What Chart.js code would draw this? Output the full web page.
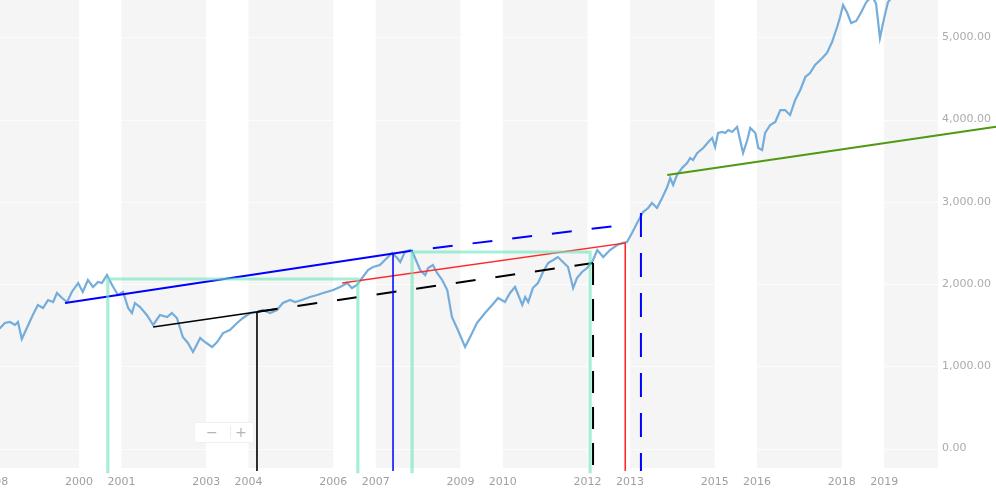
<!DOCTYPE html>
<html>
<head>
<meta charset="utf-8">
<script src="https://cdn.jsdelivr.net/npm/chart.js@4/dist/chart.umd.min.js"></script>
<style>
  html, body { margin: 0; padding: 0; background: #fff; overflow: hidden; }
  #wrap { position: absolute; left: -60px; top: 0; width: 1100px; height: 494px; }
  #zoomBox {
    position: absolute; left: 194px; top: 422px; width: 58px; height: 19px;
    background: #fff; border: 1px solid #f1f1f1; color: #b5b5b5;
    font: 14px "DejaVu Sans", sans-serif; line-height: 19px;
  }
  #zoomBox span { position: absolute; top: 0; }
  #zoomBox i { position: absolute; left: 35px; top: 3px; width: 1px; height: 13px; background: #eee; }
</style>
</head>
<body>
<div id="wrap"><canvas id="myChart" width="1100" height="494"></canvas></div>
<div id="zoomBox"><span style="left:11px">−</span><i></i><span style="left:40px">+</span></div>
<script>
// index level
const years = [
  1997.99, 1998.14, 1998.25, 1998.37, 1998.49, 1998.56, 1998.65, 1998.77, 1998.91,
  1999.03, 1999.15, 1999.27, 1999.39, 1999.48, 1999.60, 1999.72, 1999.83, 1999.98,
  2000.09, 2000.21, 2000.33, 2000.45, 2000.54, 2000.66, 2000.78, 2000.85, 2000.92,
  2001.04, 2001.16, 2001.25, 2001.32, 2001.44, 2001.60, 2001.75, 2001.91,
  2002.08, 2002.19, 2002.31, 2002.45, 2002.57, 2002.69, 2002.86, 2002.97,
  2003.14, 2003.26, 2003.40, 2003.56, 2003.73, 2003.87,
  2004.04, 2004.20, 2004.34, 2004.51, 2004.67, 2004.81, 2004.98,
  2005.10, 2005.26, 2005.45, 2005.62, 2005.76,
  2006.00, 2006.16, 2006.33, 2006.44, 2006.56, 2006.68, 2006.82, 2006.94,
  2007.10, 2007.22, 2007.39, 2007.51, 2007.58, 2007.69, 2007.81, 2007.88, 2007.98,
  2008.05, 2008.17, 2008.24, 2008.35, 2008.45, 2008.57, 2008.69, 2008.80, 2008.94,
  2009.11, 2009.23, 2009.39, 2009.58, 2009.75, 2009.89,
  2010.05, 2010.17, 2010.29, 2010.46, 2010.53, 2010.60, 2010.71, 2010.83, 2010.95,
  2011.07, 2011.19, 2011.30, 2011.42, 2011.54, 2011.66, 2011.75, 2011.87, 2011.99,
  2012.11, 2012.23, 2012.37, 2012.53, 2012.70, 2012.82, 2012.93,
  2013.05, 2013.17, 2013.31, 2013.43, 2013.52, 2013.64, 2013.76, 2013.88, 2013.95,
  2014.02, 2014.11, 2014.23, 2014.35, 2014.42, 2014.49, 2014.59, 2014.73, 2014.85, 2014.94,
  2015.01, 2015.08, 2015.18, 2015.25, 2015.32, 2015.41, 2015.53, 2015.60, 2015.67, 2015.77, 2015.84, 2015.96,
  2016.03, 2016.12, 2016.19, 2016.31, 2016.43, 2016.55, 2016.66, 2016.78, 2016.90,
  2017.02, 2017.14, 2017.25, 2017.37, 2017.54, 2017.65, 2017.77, 2017.89, 2017.96,
  2018.03, 2018.13, 2018.22, 2018.34, 2018.46, 2018.58, 2018.72, 2018.81, 2018.90,
  2019.00, 2019.09, 2019.21, 2019.33
];
const values = [
  1441, 1465, 1526, 1538, 1502, 1538, 1331, 1465, 1623,
  1745, 1708, 1805, 1781, 1891, 1830, 1781, 1903, 2012,
  1903, 2049, 1964, 2024, 2012, 2109, 1988, 1927, 1866,
  1903, 1708, 1647, 1769, 1720, 1623, 1502, 1623,
  1599, 1647, 1587, 1356, 1283, 1173, 1343, 1295,
  1234, 1295, 1404, 1441, 1526, 1587,
  1647, 1660, 1684, 1647, 1684, 1769, 1805,
  1781, 1805, 1842, 1866, 1891,
  1927, 1964, 2012, 1951, 1988, 2073, 2170, 2207,
  2231, 2292, 2377, 2316, 2267, 2389, 2413, 2377, 2255,
  2170, 2109, 2194, 2231, 2134, 2049, 1927, 1599, 1441,
  1234, 1356, 1526, 1647, 1745, 1830,
  1781, 1891, 1964, 1745, 1842, 1781, 1951, 2012, 2146,
  2255, 2292, 2328, 2267, 2207, 1951, 2073, 2146, 2194,
  2267, 2413, 2328, 2413, 2474, 2498, 2511,
  2620, 2742, 2875, 2924, 2985, 2924, 3046, 3179, 3289,
  3204, 3325, 3410, 3471, 3532, 3508, 3593, 3653, 3726, 3775,
  3666, 3836, 3848, 3836, 3872, 3848, 3909, 3751, 3593, 3751, 3897, 3836,
  3653, 3629, 3836, 3933, 3970, 4115, 4115, 4055, 4237,
  4359, 4517, 4565, 4663, 4748, 4809, 4942, 5125, 5246,
  5392, 5295, 5173, 5198, 5307, 5428, 5500, 5404, 4991,
  5234, 5428, 5500, 5550
];

// hand drawn marks, as [year, level]
const blueTrend = [[1999.67, 1769], [2007.81, 2401]];
const blueProjection = [[2007.81, 2401], [2012.70, 2709]];
const blueMark = [[2007.41, 2371], [2007.41, -274]];
const blueDrop = [[2013.26, 2863], [2013.26, -274]];
const redTrend = [[2006.21, 2012], [2012.89, 2498], [2012.89, -274]];
const blackTrend = [[2001.75, 1477], [2004.67, 1696]];
const blackMark = [[2004.20, 1663], [2004.20, -274]];
const blackProjection = [[2004.22, 1663], [2012.13, 2255]];
const blackDrop = [[2012.13, 2255], [2012.13, -274]];
const tealSpanA = [[2000.68, -300], [2000.68, 2061], [2006.58, 2061], [2006.58, -300]];
const tealSpanB = [[2007.86, -300], [2007.86, 2389], [2012.06, 2389], [2012.06, -300]];
const greenTrend = [[2013.88, 3325], [2021.64, 3911]];

const yearTicks = [1998, 2000, 2001, 2003, 2004, 2006, 2007, 2009, 2010, 2012, 2013, 2015, 2016, 2018, 2019];
const levelTicks = [0, 1000, 2000, 3000, 4000, 5000];
// white year columns, the rest of the plot is shaded
const whiteYears = [2000, 2003, 2006, 2009, 2012, 2015, 2018];

const toPts = (arr) => arr.map((p) => ({ x: p[0], y: p[1] }));

const mark = (data, color, width, dash, offset) => ({
  data: toPts(data),
  borderColor: color,
  borderWidth: width,
  borderDash: dash || [],
  borderDashOffset: offset || 0,
  pointRadius: 0,
  tension: 0,
  clip: false,
  order: 1,
});

const bands = {
  id: "bands",
  beforeDatasetsDraw(chart) {
    const { ctx, chartArea: a, scales: { x } } = chart;
    ctx.save();
    ctx.fillStyle = "#f5f5f5";
    ctx.fillRect(a.left, a.top, a.right - a.left, a.bottom - a.top);
    ctx.fillStyle = "#ffffff";
    whiteYears.forEach((yr) => {
      const l = x.getPixelForValue(yr);
      const r = x.getPixelForValue(yr + 1);
      ctx.fillRect(l, a.top, r - l, a.bottom - a.top);
    });
    // faint level lines
    ctx.strokeStyle = "rgba(255,255,255,0.7)";
    ctx.lineWidth = 1;
    levelTicks.forEach((v) => {
      const py = Math.round(chart.scales.y.getPixelForValue(v)) + 0.5;
      ctx.beginPath();
      ctx.moveTo(a.left, py);
      ctx.lineTo(a.right, py);
      ctx.stroke();
    });
    ctx.restore();
  },
};

const ctx = document.getElementById("myChart");
new Chart(ctx, {
  type: "line",
  data: {
    datasets: [
      {
        data: years.map((yr, i) => ({ x: yr, y: values[i] })),
        borderColor: "rgba(104,166,216,0.92)",
        borderWidth: 2.2,
        pointRadius: 0,
        tension: 0,
        order: 5,
      },
      mark(tealSpanA, "rgba(112,228,190,0.62)", 3.2),
      mark(tealSpanB, "rgba(112,228,190,0.62)", 3.2),
      mark(blueTrend, "#0000ff", 2),
      mark(blueProjection, "#0000ff", 2, [20, 20], 17),
      mark(blueMark, "#0000ff", 1.5),
      mark(blueDrop, "#0000ff", 2, [24, 16]),
      mark(redTrend, "#ff2a2a", 1.6),
      mark(blackTrend, "#000000", 1.6),
      mark(blackMark, "#000000", 1.6),
      mark(blackProjection, "#000000", 2, [20, 20]),
      mark(blackDrop, "#000000", 2, [22, 14]),
      mark(greenTrend, "#4f9a12", 2),
    ],
  },
  options: {
    responsive: false,
    animation: false,
    maintainAspectRatio: false,
    layout: { padding: 0 },
    plugins: { legend: { display: false }, tooltip: { enabled: false } },
    scales: {
      x: {
        type: "linear",
        min: 1996.72,
        max: 2020.27,
        border: { display: false },
        grid: { display: false, drawTicks: false },
        afterBuildTicks: (s) => { s.ticks = yearTicks.map((v) => ({ value: v })); },
        afterFit: (s) => { s.height = 26; s.paddingLeft = 0; s.paddingRight = 0; },
        ticks: {
          padding: 8,
          autoSkip: false,
          maxRotation: 0,
          color: "#a0a0a0",
          font: { family: "DejaVu Sans", size: 11 },
          callback: (v) => String(v),
        },
      },
      y: {
        position: "right",
        min: -237,
        max: 5453,
        border: { display: false },
        grid: { display: false, drawTicks: false },
        afterBuildTicks: (s) => { s.ticks = levelTicks.map((v) => ({ value: v })); },
        afterFit: (s) => { s.width = 102; s.paddingTop = 0; s.paddingBottom = 0; },
        ticks: {
          padding: 4,
          color: "#ababab",
          font: { family: "DejaVu Sans", size: 11 },
          callback: (v) => v.toLocaleString("en-US", { minimumFractionDigits: 2, maximumFractionDigits: 2 }),
        },
      },
    },
  },
  plugins: [bands],
});
</script>
</body>
</html>
